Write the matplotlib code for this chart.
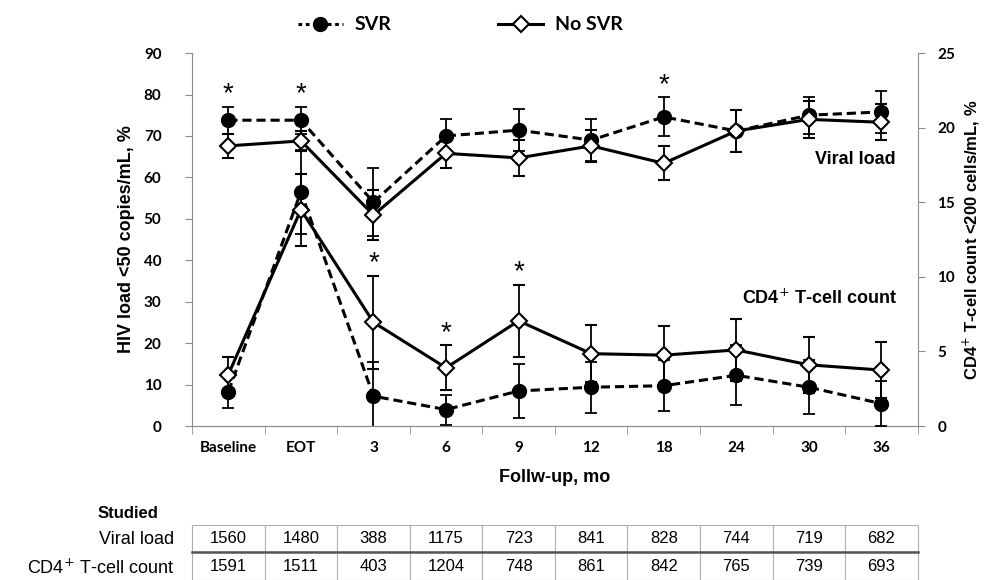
import matplotlib
matplotlib.use('Agg')
import matplotlib.pyplot as plt
from matplotlib.lines import Line2D
import numpy as np

# follow-up points
labels = ['Baseline', 'EOT', '3', '6', '9', '12', '18', '24', '30', '36']

# HIV load <50 copies/mL, %  (left axis)
vl_svr = [73.8, 73.8, 54.0, 70.0, 71.4, 69.0, 74.6, 71.2, 75.0, 75.8]
vl_svr_err = [3.3, 3.3, 8.2, 4.0, 5.1, 5.0, 4.7, 5.0, 4.5, 5.0]
vl_nosvr = [67.6, 68.8, 50.9, 65.8, 64.7, 67.6, 63.4, 71.2, 74.0, 73.3]
vl_nosvr_err = [2.9, 2.5, 6.0, 3.5, 4.4, 3.8, 4.1, 5.0, 4.5, 4.3]

# CD4+ T-cell count <200 cells/mL, %  (right axis)
cd4_svr = [2.3, 15.7, 2.0, 1.1, 2.35, 2.6, 2.7, 3.4, 2.6, 1.5]
cd4_svr_err = [1.1, 2.8, 2.3, 1.0, 1.8, 1.7, 1.7, 2.0, 1.8, 1.5]
cd4_nosvr = [3.45, 14.5, 6.95, 3.9, 7.05, 4.85, 4.75, 5.1, 4.1, 3.75]
cd4_nosvr_err = [1.2, 2.4, 3.1, 1.5, 2.4, 1.9, 1.95, 2.05, 1.9, 1.85]

# significant differences (index of follow-up point)
vl_sig = [0, 1, 6]
cd4_sig = [2, 3, 4]

# numbers studied
n_vl = [1560, 1480, 388, 1175, 723, 841, 828, 744, 719, 682]
n_cd4 = [1591, 1511, 403, 1204, 748, 861, 842, 765, 739, 693]

CAL = ['Lato', 'DejaVu Sans']
ARI = ['Liberation Sans', 'DejaVu Sans']
NAR = ['Liberation Sans Narrow', 'Liberation Sans', 'DejaVu Sans']
GRAY = '#8c8c8c'

x = np.arange(len(labels))
dash = (0, (3, 1.6))

fig = plt.figure(figsize=(9.9, 5.8), dpi=100)
ax = fig.add_axes([0.194, 0.2655, 0.733, 0.643])
ax2 = ax.twinx()

svr_style = dict(color='black', lw=2.2, ls=dash, marker='o', ms=10,
                 mfc='black', mec='black', capsize=4.5, elinewidth=1.3,
                 capthick=1.3, ecolor='black')
nosvr_style = dict(color='black', lw=2.2, ls='-', marker='D', ms=8.5,
                   mfc='white', mec='black', mew=1.5, capsize=4.5,
                   elinewidth=1.3, capthick=1.3, ecolor='black')

ax.errorbar(x, vl_svr, yerr=vl_svr_err, zorder=3, **svr_style)
ax.errorbar(x, vl_nosvr, yerr=vl_nosvr_err, zorder=4, **nosvr_style)
ax2.errorbar(x, cd4_svr, yerr=cd4_svr_err, zorder=3, **svr_style)
ax2.errorbar(x, cd4_nosvr, yerr=cd4_nosvr_err, zorder=4, **nosvr_style)

# asterisks
for i in vl_sig:
    ax.text(x[i], vl_svr[i] + vl_svr_err[i] + 3.0, '*', ha='center',
            va='center', fontsize=20, family=ARI)
for i in cd4_sig:
    ax2.text(x[i], cd4_nosvr[i] + cd4_nosvr_err[i] + 0.85, '*', ha='center',
             va='center', fontsize=20, family=ARI)

ax.text(9.2, 64.2, 'Viral load', ha='right', va='center', fontsize=13,
        family=ARI, fontweight='bold')
ax.text(9.22, 30.9, 'CD4$^{+}$ T-cell count', ha='right', va='center',
        fontsize=13, family=ARI, fontweight='bold')

# axes
ax.set_xlim(-0.5, 9.5)
ax.set_ylim(0, 90)
ax2.set_ylim(0, 25)
ax.set_yticks(range(0, 91, 10))
ax2.set_yticks(range(0, 26, 5))
ax.set_xticks(x)
ax.set_xticklabels(labels)
ax.set_xticks(np.arange(-0.5, 10, 1), minor=True)

for a in (ax, ax2):
    for s in a.spines.values():
        s.set_color(GRAY)
    a.spines['top'].set_visible(False)
ax.spines['right'].set_visible(False)
ax2.spines['left'].set_visible(False)

ax.tick_params(axis='x', which='major', length=0, pad=11)
ax.tick_params(axis='x', which='minor', length=6, color=GRAY, direction='out')
ax.tick_params(axis='y', length=5, color=GRAY, pad=17)
ax2.tick_params(axis='y', length=5, color=GRAY, pad=9)
for t in ax.get_xticklabels() + ax.get_yticklabels() + ax2.get_yticklabels():
    t.set_family(CAL)
    t.set_fontweight('bold')
    t.set_fontsize(11)

ax.set_ylabel('HIV load <50 copies/mL, %', family=ARI, fontweight='bold',
              fontsize=13, labelpad=6)
ax2.set_ylabel('CD4$^{+}$ T-cell count <200 cells/mL, %', family=ARI,
               fontweight='bold', fontsize=12, labelpad=4)
ax.set_xlabel('Follw-up, mo', family=ARI, fontweight='bold', fontsize=13,
              labelpad=10)

# legend
handles = [
    Line2D([], [], color='black', lw=2.2, ls=(0, (1.2, 1.2)), marker='o',
           ms=10, mfc='black', mec='black'),
    Line2D([], [], color='black', lw=2.2, ls='-', marker='D', ms=8.5,
           mfc='white', mec='black', mew=1.5),
]
leg = fig.legend(handles, ['SVR', 'No SVR'], loc='center',
                 bbox_to_anchor=(0.465, 0.957), ncol=2, frameon=False,
                 handlelength=2.3, columnspacing=5.5, handletextpad=0.6,
                 prop={'family': CAL, 'weight': 'bold', 'size': 14})

# table of numbers studied
tab = ax.table(cellText=[[str(v) for v in n_vl], [str(v) for v in n_cd4]],
               cellLoc='center', bbox=[0, -0.413, 1, 0.148])
tab.auto_set_font_size(False)
for (r, c), cell in tab.get_celld().items():
    cell.set_edgecolor('#b0b0b0')
    cell.set_linewidth(0.8)
    cell.get_text().set_fontsize(12)
    cell.get_text().set_family(NAR)
ax.plot([0, 1], [-0.339, -0.339], transform=ax.transAxes, color='#555555',
        lw=1.8, clip_on=False)

fig.text(128 / 990, 1 - 514 / 580, 'Studied', ha='center', va='center',
         family=NAR, fontweight='bold', fontsize=12)
fig.text(174 / 990, 1 - 540 / 580, 'Viral load', ha='right', va='center',
         family=NAR, fontsize=13)
fig.text(174 / 990, 1 - 568 / 580, 'CD4$^{+}$ T-cell count', ha='right',
         va='center', family=NAR, fontsize=13)

plt.savefig('out.png', dpi=100)
